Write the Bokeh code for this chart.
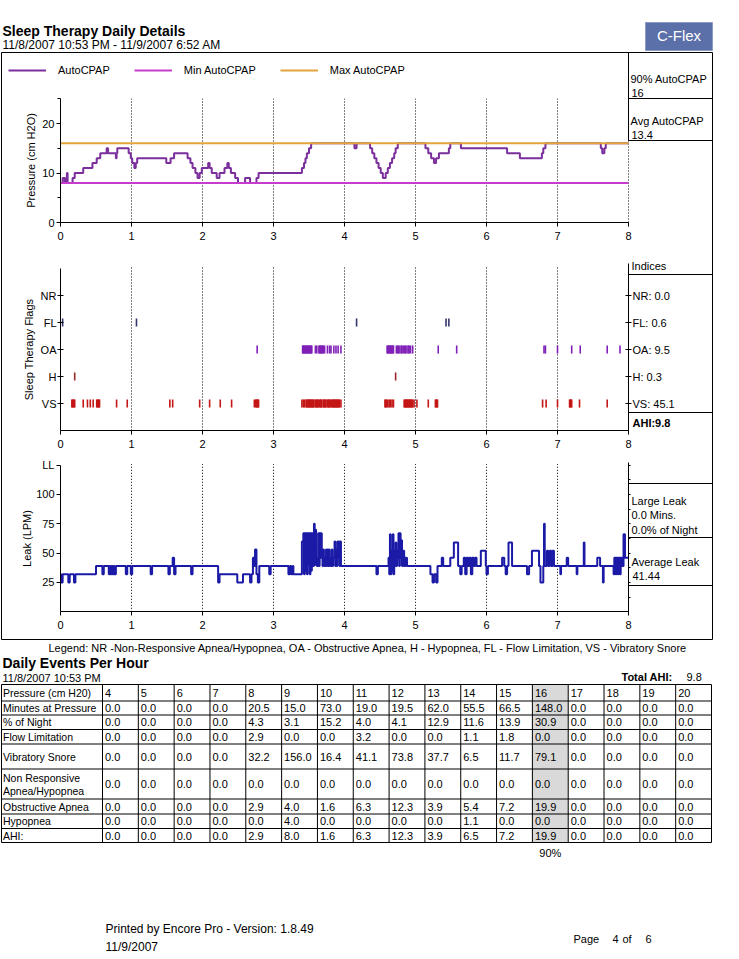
import numpy as np
from collections import OrderedDict
from bokeh.plotting import figure
from bokeh.models import Range1d, LinearAxis, FixedTicker, Legend, LegendItem, ColumnDataSource
from bokeh.core.properties import value
from bokeh.embed import file_html
from bokeh.resources import INLINE

FONT = "Liberation Sans"

# ---------------- data ----------------
report_title = "Sleep Therapy Daily Details"
report_period = "11/8/2007 10:53 PM - 11/9/2007 6:52 AM"
hour_ticks = [0, 1, 2, 3, 4, 5, 6, 7, 8]

# AutoCPAP pressure (hours, cm H2O), step "after"
auto_steps = [(0.00, 8), (0.03, 9), (0.06, 8), (0.08, 9), (0.09, 10), (0.10, 8), (0.17, 9), (0.20, 10),
              (0.32, 11), (0.45, 12), (0.51, 13), (0.56, 14), (0.65, 15), (0.67, 14), (0.78, 13), (0.79, 14),
              (0.80, 15), (0.96, 14), (0.99, 13), (1.01, 12), (1.04, 11), (1.06, 12), (1.08, 13), (1.49, 12),
              (1.55, 13), (1.60, 14), (1.79, 13), (1.83, 12), (1.86, 11), (1.90, 10), (1.93, 9), (1.96, 10),
              (1.99, 11), (2.08, 12), (2.10, 11), (2.13, 10), (2.20, 9), (2.24, 10), (2.31, 11), (2.35, 12),
              (2.37, 11), (2.40, 10), (2.46, 9), (2.50, 8), (2.60, 9), (2.67, 8), (2.76, 9), (2.79, 10),
              (3.40, 11), (3.43, 12), (3.45, 13), (3.47, 14), (3.50, 15), (3.53, 16), (4.14, 15), (4.17, 16),
              (4.36, 15), (4.39, 14), (4.42, 13), (4.45, 12), (4.48, 11), (4.51, 10), (4.54, 9), (4.58, 10),
              (4.61, 11), (4.64, 12), (4.67, 13), (4.70, 14), (4.72, 15), (4.75, 16), (5.14, 15), (5.18, 14),
              (5.22, 13), (5.26, 12), (5.29, 13), (5.33, 14), (5.47, 15), (5.49, 16), (5.64, 15), (6.29, 14),
              (6.47, 13), (6.78, 14), (6.80, 15), (6.83, 16), (7.61, 15), (7.63, 14), (7.66, 15), (7.68, 16),
              (8.00, 16)]
min_autocpap = 8
max_autocpap = 16
p90_autocpap = 16
avg_autocpap = 13.4

flag_names = ["VS", "H", "OA", "FL", "NR"]          # bottom -> top
flag_index = [45.1, 0.3, 9.5, 0.6, 0.0]
total_ahi = 9.8
nr_times = []
fl_times = [0.03, 1.07, 4.17, 5.43, 5.47]
h_times = [0.20, 4.72]
oa_times = [2.77,
            3.41, 3.42, 3.43, 3.44, 3.45, 3.46, 3.47, 3.48, 3.49, 3.50, 3.51, 3.52, 3.53, 3.54, 3.59, 3.61,
            3.64, 3.65, 3.66, 3.67, 3.68, 3.69, 3.70, 3.72, 3.76, 3.79, 3.81, 3.85, 3.88, 3.91, 3.95,
            4.60, 4.61, 4.62, 4.63, 4.64, 4.65, 4.66, 4.67, 4.68, 4.69, 4.73, 4.75, 4.76, 4.78, 4.80, 4.81,
            4.83, 4.85, 4.86, 4.88, 4.90, 4.91, 4.93, 4.96,
            5.32, 5.58, 6.81, 6.83, 7.00, 7.20, 7.32, 7.70, 7.88]
vs_times = [0.16, 0.17, 0.18, 0.19, 0.20, 0.32, 0.38, 0.42, 0.46, 0.51, 0.52, 0.53, 0.54, 0.55, 0.79, 0.94,
            1.54, 1.58, 1.96, 2.10, 2.25, 2.41, 2.73, 2.75, 2.76, 2.77, 2.78, 2.79,
            3.40, 3.42, 3.44, 3.46, 3.47, 3.48, 3.49, 3.50, 3.51, 3.52, 3.53, 3.54, 3.55, 3.56, 3.57, 3.59,
            3.60, 3.61, 3.62, 3.63, 3.65, 3.66, 3.67, 3.68, 3.70, 3.71, 3.72, 3.73, 3.74, 3.76, 3.77, 3.78,
            3.79, 3.80, 3.82, 3.83, 3.84, 3.85, 3.86, 3.87, 3.88, 3.89, 3.90, 3.91, 3.92, 3.93, 3.95,
            4.57, 4.58, 4.59, 4.61, 4.63, 4.65, 4.67, 4.69,
            4.84, 4.85, 4.86, 4.87, 4.88, 4.89, 4.90, 4.91, 4.92, 4.93, 4.94, 4.95, 4.96, 4.98, 5.02,
            5.18, 5.28, 5.29, 5.30, 5.31, 6.79, 6.84, 7.00, 7.17, 7.18, 7.19, 7.20, 7.31, 7.70]

leak_steps = [(0.00, 32), (0.01, 25), (0.03, 32), (0.11, 25), (0.13, 32), (0.19, 25), (0.21, 32),
              (0.50, 39), (0.59, 32), (0.61, 39), (0.68, 32), (0.69, 39), (0.70, 32), (0.71, 39), (0.72, 32),
              (0.73, 39), (0.74, 32), (0.75, 39), (0.76, 32), (0.78, 39), (0.92, 32), (0.94, 39), (0.99, 32),
              (1.01, 39), (1.27, 32), (1.29, 39), (1.52, 32), (1.54, 39), (1.58, 46), (1.60, 32), (1.62, 39),
              (1.84, 32), (1.86, 39), (2.22, 25), (2.24, 32), (2.49, 25), (2.57, 32), (2.67, 25), (2.69, 32),
              (2.71, 46), (2.73, 39), (2.74, 53), (2.76, 32), (2.78, 25), (2.80, 39), (2.94, 32), (2.96, 39),
              (3.21, 32), (3.23, 39), (3.25, 32), (3.27, 39), (3.28, 32),
              (3.40, 60), (3.42, 67), (3.43, 32), (3.44, 67), (3.45, 35), (3.46, 67), (3.47, 32), (3.48, 67),
              (3.49, 40), (3.50, 67), (3.51, 32), (3.52, 67), (3.53, 35), (3.54, 67), (3.55, 39), (3.57, 75),
              (3.58, 40), (3.59, 70), (3.60, 46), (3.61, 39), (3.63, 67), (3.64, 39), (3.65, 67), (3.66, 46),
              (3.67, 67), (3.68, 50), (3.69, 39), (3.70, 53), (3.71, 39), (3.72, 46), (3.73, 39), (3.74, 53),
              (3.75, 39), (3.76, 53), (3.77, 39), (3.78, 53), (3.79, 39), (3.80, 46), (3.81, 39), (3.82, 53),
              (3.83, 39), (3.84, 46), (3.86, 60), (3.87, 39), (3.88, 53), (3.89, 39), (3.90, 60), (3.91, 46),
              (3.92, 60), (3.93, 39), (3.94, 60), (3.95, 39),
              (4.45, 32), (4.47, 39), (4.62, 46), (4.63, 32), (4.64, 66), (4.65, 32), (4.66, 52), (4.67, 35),
              (4.68, 66), (4.69, 32), (4.70, 52), (4.71, 39), (4.72, 59), (4.73, 39), (4.74, 52), (4.75, 46),
              (4.76, 67), (4.77, 39), (4.78, 67), (4.79, 46), (4.80, 61), (4.81, 39), (4.82, 52), (4.84, 39),
              (4.86, 46), (4.88, 39), (5.21, 32), (5.24, 25), (5.26, 32), (5.29, 25), (5.31, 39), (5.37, 46),
              (5.39, 39), (5.49, 46), (5.54, 59), (5.60, 39), (5.63, 32), (5.65, 39), (5.68, 46), (5.70, 32),
              (5.72, 46), (5.74, 39), (5.76, 46), (5.78, 32), (5.80, 46), (5.82, 39), (5.84, 46), (5.86, 39),
              (5.92, 52), (5.99, 39), (6.00, 32), (6.02, 39), (6.22, 46), (6.25, 39), (6.27, 32), (6.29, 39),
              (6.31, 59), (6.36, 39), (6.57, 32), (6.60, 39), (6.64, 52), (6.74, 39), (6.76, 25), (6.80, 39),
              (6.81, 75), (6.82, 39), (6.85, 52), (6.87, 39), (6.89, 52), (6.91, 39), (6.93, 52), (6.95, 39),
              (7.04, 32), (7.05, 39), (7.13, 46), (7.15, 39), (7.27, 32), (7.28, 39), (7.37, 59), (7.38, 39),
              (7.56, 46), (7.60, 39), (7.64, 25), (7.65, 39), (7.79, 32), (7.80, 46), (7.82, 32), (7.83, 46),
              (7.85, 32), (7.86, 46), (7.88, 32), (7.89, 46), (7.91, 39), (7.93, 66), (7.95, 46), (8.00, 46)]
large_leak_min = 0.0
large_leak_pct = 0.0
avg_leak = 41.44

table_pressures = list(range(4, 21))
minutes_at_pressure = [0.0, 0.0, 0.0, 0.0, 20.5, 15.0, 73.0, 19.0, 19.5, 62.0, 55.5, 66.5, 148.0, 0.0, 0.0, 0.0, 0.0]
pct_of_night = [0.0, 0.0, 0.0, 0.0, 4.3, 3.1, 15.2, 4.0, 4.1, 12.9, 11.6, 13.9, 30.9, 0.0, 0.0, 0.0, 0.0]
flow_limitation = [0.0, 0.0, 0.0, 0.0, 2.9, 0.0, 0.0, 3.2, 0.0, 0.0, 1.1, 1.8, 0.0, 0.0, 0.0, 0.0, 0.0]
vibratory_snore = [0.0, 0.0, 0.0, 0.0, 32.2, 156.0, 16.4, 41.1, 73.8, 37.7, 6.5, 11.7, 79.1, 0.0, 0.0, 0.0, 0.0]
non_responsive = [0.0] * 17
obstructive_apnea = [0.0, 0.0, 0.0, 0.0, 2.9, 4.0, 1.6, 6.3, 12.3, 3.9, 5.4, 7.2, 19.9, 0.0, 0.0, 0.0, 0.0]
hypopnea = [0.0, 0.0, 0.0, 0.0, 0.0, 4.0, 0.0, 0.0, 0.0, 0.0, 1.1, 0.0, 0.0, 0.0, 0.0, 0.0, 0.0]
ahi_row = [0.0, 0.0, 0.0, 0.0, 2.9, 8.0, 1.6, 6.3, 12.3, 3.9, 6.5, 7.2, 19.9, 0.0, 0.0, 0.0, 0.0]
row_labels = [["Pressure (cm H20)"], ["Minutes at Pressure"], ["% of Night"], ["Flow Limitation"],
              ["Vibratory Snore"], ["Non Responsive", "Apnea/Hypopnea"], ["Obstructive Apnea"],
              ["Hypopnea"], ["AHI:"]]
p90_pressure_col = 16

# ---------------- page geometry (reference pixel coordinates) ----------------
W, H = 739, 959
PX0, PX1 = 0.0, 739.0
PY0, PY1 = 959.0, 0.0

def tx(px):   # time axis
    return (px - 60.0) / 71.0

def vp(py):   # pressure axis
    return (222.0 - py) / 4.95

def vf(py):   # flags axis
    return (430.0 - py) / 27.0

def vl(py):   # leak axis
    return (611.3 - py) / 1.1733

p = figure(width=W, height=H, x_range=Range1d(PX0, PX1), y_range=Range1d(PY0, PY1),
           output_backend="svg", toolbar_location=None, x_axis_type=None, y_axis_type=None,
           min_border=0, title=None)
p.outline_line_color = None
p.background_fill_color = "white"
p.border_fill_color = "white"
p.extra_x_ranges = {"t": Range1d(tx(PX0), tx(PX1))}
p.extra_y_ranges = {"pres": Range1d(vp(PY0), vp(PY1)),
                    "flag": Range1d(vf(PY0), vf(PY1)),
                    "leak": Range1d(vl(PY0), vl(PY1))}

texts = OrderedDict()

def put(x, y, s, size="11px", style="normal", align="left", color="black"):
    d = texts.setdefault((size, style, align, color), {"x": [], "y": [], "text": []})
    d["x"].append(x); d["y"].append(y); d["text"].append(s)

# ---------------- header ----------------
put(2, 30, report_title, size="14px", style="bold")
put(2, 44, report_period, size="12px")
p.quad(left=[645], right=[712], top=[22], bottom=[50], fill_color="#5b6fa8", line_color="#8a9ac4")
put(678.5, 35, "C-Flex", size="15px", align="center", color="white")

# box + side panels (layout lines)
seg_x0 = [1, 1, 1, 712, 628, 628, 628, 628, 628, 628, 628, 628]
seg_x1 = [712, 712, 1, 712, 628, 712, 712, 712, 712, 712, 712, 712]
seg_y0 = [52, 639, 52, 52, 52, 98, 140, 274, 412, 483, 537, 585]
seg_y1 = [52, 639, 639, 639, 140, 98, 140, 274, 412, 483, 537, 585]
p.segment(x0=seg_x0, y0=seg_y0, x1=seg_x1, y1=seg_y1, line_color="black", line_width=1)

# ---------------- axes helper ----------------
def axis(side, yr, loc, bounds, ticks, minor=(), overrides=None, label=None,
         t_in=0, t_out=4, m_in=0, m_out=0, lab_off=4, axlab_off=6, xr="t"):
    ax = LinearAxis(x_range_name=xr, y_range_name=yr, fixed_location=loc, bounds=bounds,
                    ticker=FixedTicker(ticks=list(ticks), minor_ticks=list(minor)))
    ax.major_tick_in = t_in
    ax.major_tick_out = t_out
    ax.minor_tick_in = m_in
    ax.minor_tick_out = m_out
    ax.major_label_standoff = lab_off
    ax.major_label_text_font = FONT
    ax.major_label_text_font_size = "11px"
    ax.major_label_text_color = "black"
    ax.axis_line_color = "black"
    ax.major_tick_line_color = "black"
    ax.minor_tick_line_color = "black"
    if overrides is not None:
        ax.major_label_overrides = overrides
    if label:
        ax.axis_label = label
        ax.axis_label_standoff = axlab_off
        ax.axis_label_text_font = FONT
        ax.axis_label_text_font_size = "11px"
        ax.axis_label_text_font_style = "normal"
        ax.axis_label_text_color = "black"
    p.add_layout(ax, side)
    return ax

def vgrid(yr, top):
    xs = hour_ticks[1:]
    p.segment(x0=xs, x1=xs, y0=[0] * len(xs), y1=[top] * len(xs), x_range_name="t", y_range_name=yr,
              line_color="black", line_width=1, line_dash="1 2")

# ---------------- pressure chart ----------------
vgrid("pres", 25)
at, av = zip(*auto_steps)
r_auto = p.step(x=list(at), y=list(av), mode="after", line_color="#7a2f9c", line_width=2,
                x_range_name="t", y_range_name="pres")
r_min = p.line(x=[hour_ticks[0], hour_ticks[-1]], y=[min_autocpap] * 2, line_color="#c63ccc", line_width=2,
               x_range_name="t", y_range_name="pres")
r_max = p.line(x=[hour_ticks[0], hour_ticks[-1]], y=[max_autocpap] * 2, line_color="#e2a43c", line_width=2,
               x_range_name="t", y_range_name="pres")
axis("left", "pres", 0, (0, 25), [0, 10, 20], minor=[5, 15, 25], label="Pressure (cm H2O)",
     t_out=4, m_out=3, lab_off=2, axlab_off=2)
axis("below", "pres", 0, (0, 8), hour_ticks, t_out=4, lab_off=5)

leg = Legend(items=[LegendItem(label="AutoCPAP", renderers=[r_auto]),
                    LegendItem(label="Min AutoCPAP", renderers=[r_min]),
                    LegendItem(label="Max AutoCPAP", renderers=[r_max])],
             orientation="horizontal", location=(8, 883), glyph_width=38, glyph_height=12,
             label_height=12, label_standoff=12, spacing=24, padding=0, margin=0,
             border_line_color=None, background_fill_alpha=0,
             label_text_font=FONT, label_text_font_size="11px", label_text_color="black")
p.add_layout(leg)

put(630, 78, "90% AutoCPAP")
put(631, 92, f"{p90_autocpap}")
put(630, 120, "Avg AutoCPAP")
put(631, 134, f"{avg_autocpap:.1f}")

# ---------------- flags chart ----------------
vgrid("flag", 6.1)
flag_colors = {"NR": "#404040", "FL": "#35356f", "OA": "#8020b8", "H": "#9a2828", "VS": "#c41616"}
flag_times = {"NR": nr_times, "FL": fl_times, "OA": oa_times, "H": h_times, "VS": vs_times}
for lvl, name in enumerate(flag_names, start=1):
    ts = flag_times[name]
    if ts:
        p.segment(x0=ts, x1=ts, y0=[lvl - 0.15] * len(ts), y1=[lvl + 0.15] * len(ts),
                  x_range_name="t", y_range_name="flag", line_color=flag_colors[name], line_width=1.6)
lvls = list(range(1, len(flag_names) + 1))
axis("left", "flag", 0, (0, 6), lvls, overrides={l: n for l, n in zip(lvls, flag_names)},
     label="Sleep Therapy Flags", t_in=3, t_out=3, lab_off=1, axlab_off=3)
axis("right", "flag", 8, (0, 6.2), lvls,
     overrides={l: f"{n}: {v:.1f}" for l, n, v in zip(lvls, flag_names, flag_index)},
     t_in=3, t_out=3, lab_off=1)
axis("below", "flag", 0, (0, 8), hour_ticks, t_out=4, lab_off=5)
put(631, 265, "Indices")
put(632, 422, f"AHI:{total_ahi:.1f}", style="bold")

# ---------------- leak chart ----------------
vgrid("leak", 126)
lt, lv = zip(*leak_steps)
p.step(x=list(lt), y=list(lv), mode="after", line_color="#1a1aa6", line_width=2,
       x_range_name="t", y_range_name="leak")
axis("left", "leak", 0, (0, 125), [25, 50, 75, 100, 125], overrides={125: "LL"},
     label="Leak (LPM)", t_out=4, lab_off=2, axlab_off=0)
axis("right", "leak", 8, (0, 127), [], minor=[12.5, 25, 37.5, 50, 62.5, 75, 87.5, 100, 112.5, 125],
     t_out=0, m_in=0, m_out=2)
axis("below", "leak", 0, (0, 8), hour_ticks, t_out=4, lab_off=5)
put(631, 500, "Large Leak")
put(631, 514, f"{large_leak_min:.1f} Mins.")
put(631, 529, f"{large_leak_pct:.1f}% of Night")
put(631, 561, "Average Leak")
put(632, 575, f"{avg_leak:.2f}")

# ---------------- legend line & table ----------------
put(48, 647, "Legend: NR  -Non-Responsive Apnea/Hypopnea, OA - Obstructive Apnea, H - Hypopnea, "
             "FL - Flow Limitation, VS - Vibratory Snore")
put(2, 662, "Daily Events Per Hour", size="14px", style="bold")
put(2, 677, "11/8/2007 10:53 PM", size="11px")
put(621, 676, "Total AHI:", style="bold")
put(686, 676, f"{total_ahi:.1f}")

tab_left, tab_first, tab_right = 1.0, 102.0, 711.0
col_edges = np.linspace(tab_first, tab_right, len(table_pressures) + 1)
row_edges = [684, 700.5, 714.5, 729, 743.5, 768.5, 798.5, 813.5, 828, 842]
hi = table_pressures.index(p90_pressure_col)
p.quad(left=[col_edges[hi]], right=[col_edges[hi + 1]], top=[row_edges[0]], bottom=[row_edges[-1]],
       fill_color="#d9d9d9", line_color=None)
hx0 = [tab_left] * len(row_edges) + [tab_left] + list(col_edges)
hx1 = [tab_right] * len(row_edges) + [tab_left] + list(col_edges)
hy0 = list(row_edges) + [row_edges[0]] * (len(col_edges) + 1)
hy1 = list(row_edges) + [row_edges[-1]] * (len(col_edges) + 1)
p.segment(x0=hx0, x1=hx1, y0=hy0, y1=hy1, line_color="black", line_width=1)

rows = [[str(v) for v in table_pressures]] + [[f"{v:.1f}" for v in r] for r in
        [minutes_at_pressure, pct_of_night, flow_limitation, vibratory_snore, non_responsive,
         obstructive_apnea, hypopnea, ahi_row]]
for i, (lab, vals) in enumerate(zip(row_labels, rows)):
    yc = (row_edges[i] + row_edges[i + 1]) / 2.0
    if len(lab) == 1:
        put(2.5, yc, lab[0], size="10.5px")
    else:
        put(2.5, yc - 6.5, lab[0], size="10.5px")
        put(2.5, yc + 6.5, lab[1], size="10.5px")
    for j, s in enumerate(vals):
        put(col_edges[j] + 2.5, yc, s, size="11px")
put((col_edges[hi] + col_edges[hi + 1]) / 2.0, 852, "90%", size="11px", align="center")

# ---------------- footer ----------------
put(105, 928, "Printed by Encore Pro - Version: 1.8.49", size="12px")
put(105, 946, "11/9/2007", size="12px")
put(573, 938, "Page", size="11px")
put(612, 938, "4", size="11px")
put(622, 938, "of", size="11px")
put(645, 938, "6", size="11px")

for (size, style, align, color), d in texts.items():
    p.text(x="x", y="y", text="text", source=ColumnDataSource(d), text_font=value(FONT),
           text_font_size=size, text_font_style=style, text_align=align, text_baseline="middle",
           text_color=color)

open("out.html", "w").write(file_html(p, INLINE))
